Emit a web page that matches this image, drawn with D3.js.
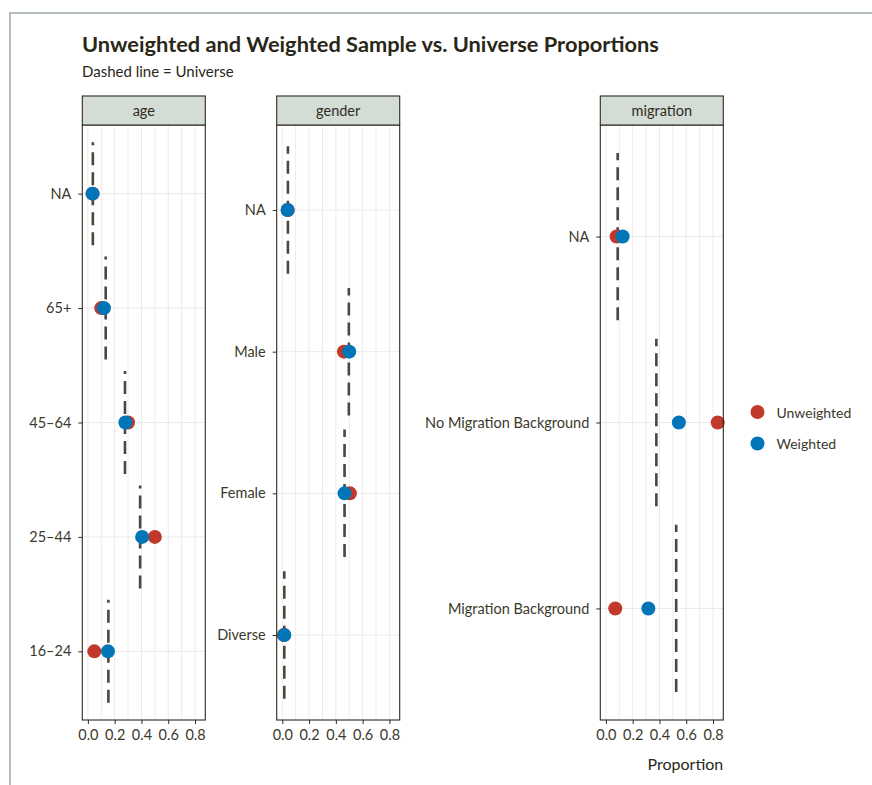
<!DOCTYPE html>
<html lang="en">
<head>
  <meta charset="UTF-8">
  <title>Unweighted and Weighted Sample vs. Universe Proportions</title>
  <script src="https://d3js.org/d3.v7.min.js"></script>
  <style>
    body { margin: 0; background: #fff; }
    svg, svg text { font-family: Lato, "Open Sans", sans-serif; }
    .tick text { fill: #3b392c; font-size: 14.5px; font-family: Lato, "Open Sans", sans-serif; }
    .tick line { stroke: #2f2b1f; }
    .strip-label { font-size: 14.5px; fill: #2f2b1f; }
  </style>
</head>
<body>
  <script>
    // data
    const facets = ["age", "gender", "migration"];
    const ageCats = ["NA", "65+", "45–64", "25–44", "16–24"];
    const ageUniverse = [0.037, 0.133, 0.277, 0.39, 0.153];
    const ageUnweighted = [0.035, 0.10, 0.30, 0.50, 0.048];
    const ageWeighted = [0.035, 0.12, 0.28, 0.405, 0.15];

    const genderCats = ["NA", "Male", "Female", "Diverse"];
    const genderUniverse = [0.042, 0.497, 0.465, 0.015];
    const genderUnweighted = [0.04, 0.46, 0.505, 0.012];
    const genderWeighted = [0.04, 0.50, 0.465, 0.015];

    const migrationCats = ["NA", "No Migration Background", "Migration Background"];
    const migrationUniverse = [0.088, 0.377, 0.525];
    const migrationUnweighted = [0.08, 0.835, 0.07];
    const migrationWeighted = [0.125, 0.545, 0.317];

    const xTicks = [0, 0.2, 0.4, 0.6, 0.8];
    const xGrid = [0, 0.1, 0.2, 0.3, 0.4, 0.5, 0.6, 0.7, 0.8];
    const seriesNames = ["Unweighted", "Weighted"];

    const panelData = {
      age: { cats: ageCats, universe: ageUniverse, unweighted: ageUnweighted, weighted: ageWeighted },
      gender: { cats: genderCats, universe: genderUniverse, unweighted: genderUnweighted, weighted: genderWeighted },
      migration: { cats: migrationCats, universe: migrationUniverse, unweighted: migrationUnweighted, weighted: migrationWeighted }
    };

    // layout
    const width = 872, height = 785;
    const stripTop = 96, plotTop = 125, plotBottom = 720, panelW = 123;
    const panelLeft = { age: 82.3, gender: 276.7, migration: 600.3 };
    const color = d3.scaleOrdinal().domain(seriesNames).range(["#c0392b", "#0075b8"]);

    const svg = d3.select("body").append("svg")
      .attr("width", width).attr("height", height);

    // outer frame
    svg.append("path")
      .attr("d", `M10,${height} L10,13 L${width},13`)
      .attr("fill", "none").attr("stroke", "#9cab9c").attr("stroke-width", 1.5);

    // title
    svg.append("text").attr("x", 82).attr("y", 52)
      .attr("font-size", 21.8).attr("font-weight", "bold").attr("fill", "#2a2718")
      .text("Unweighted and Weighted Sample vs. Universe Proportions");
    svg.append("text").attr("x", 82).attr("y", 77)
      .attr("font-size", 15).attr("fill", "#2a2718")
      .text("Dashed line = Universe");

    // shared x domain, 5% expansion like ggplot
    const allVals = facets.flatMap(f => [...panelData[f].universe, ...panelData[f].unweighted, ...panelData[f].weighted]);
    const xMax = d3.max(allVals), xMin = 0;
    const pad = (xMax - xMin) * 0.05;

    facets.forEach(f => {
      const d = panelData[f];
      const left = panelLeft[f];
      const x = d3.scaleLinear().domain([xMin - pad, xMax + pad]).range([left, left + panelW]);
      const y = d3.scalePoint().domain(d.cats).range([plotTop, plotBottom]).padding(0.6);
      const step = y.step();
      const g = svg.append("g");

      // grid
      g.selectAll(".vgrid").data(xGrid).enter().append("line")
        .attr("x1", v => x(v)).attr("x2", v => x(v))
        .attr("y1", plotTop).attr("y2", plotBottom)
        .attr("stroke", "#ebebeb").attr("stroke-width", 1);
      g.selectAll(".hgrid").data(d.cats).enter().append("line")
        .attr("x1", left).attr("x2", left + panelW)
        .attr("y1", c => y(c)).attr("y2", c => y(c))
        .attr("stroke", "#ebebeb").attr("stroke-width", 1);

      // universe dashed lines
      g.selectAll(".uni").data(d.cats).enter().append("line")
        .attr("x1", (c, i) => x(d.universe[i])).attr("x2", (c, i) => x(d.universe[i]))
        .attr("y1", c => y(c) + 0.45 * step).attr("y2", c => y(c) - 0.45 * step)
        .attr("stroke", "#4b4740").attr("stroke-width", 2.6)
        .attr("stroke-dasharray", "13,7");

      // points
      [["Unweighted", d.unweighted], ["Weighted", d.weighted]].forEach(([name, vals]) => {
        g.selectAll(".pt-" + name).data(d.cats).enter().append("circle")
          .attr("cx", (c, i) => x(vals[i])).attr("cy", c => y(c))
          .attr("r", 7).attr("fill", color(name));
      });

      // panel border
      g.append("rect").attr("x", left).attr("y", plotTop)
        .attr("width", panelW).attr("height", plotBottom - plotTop)
        .attr("fill", "none").attr("stroke", "#2f2b1f").attr("stroke-width", 1.1);

      // strip
      g.append("rect").attr("x", left).attr("y", stripTop)
        .attr("width", panelW).attr("height", plotTop - stripTop)
        .attr("fill", "#d4ddd5").attr("stroke", "#2f2b1f").attr("stroke-width", 1.1);
      g.append("text").attr("class", "strip-label")
        .attr("x", left + panelW / 2).attr("y", (stripTop + plotTop) / 2)
        .attr("text-anchor", "middle").attr("dominant-baseline", "central")
        .text(f);

      // axes
      g.append("g").attr("transform", `translate(${left},0)`)
        .call(d3.axisLeft(y).tickSize(4).tickPadding(7))
        .call(a => a.select(".domain").remove());
      g.append("g").attr("transform", `translate(0,${plotBottom})`)
        .call(d3.axisBottom(x).tickValues(xTicks).tickFormat(d3.format(".1f")).tickSize(4).tickPadding(6))
        .call(a => a.select(".domain").remove());
    });

    // x axis title
    svg.append("text")
      .attr("x", panelLeft.migration + panelW).attr("y", 770)
      .attr("text-anchor", "end").attr("font-size", 16).attr("fill", "#2a2718")
      .text("Proportion");

    // legend
    const legend = svg.append("g").attr("transform", "translate(757.5,412)");
    seriesNames.forEach((name, i) => {
      legend.append("circle").attr("cx", 0).attr("cy", i * 31.5).attr("r", 7).attr("fill", color(name));
      legend.append("text").attr("x", 19).attr("y", i * 31.5)
        .attr("dominant-baseline", "central").attr("font-size", 14).attr("fill", "#3b392c")
        .text(name);
    });
  </script>
</body>
</html>
